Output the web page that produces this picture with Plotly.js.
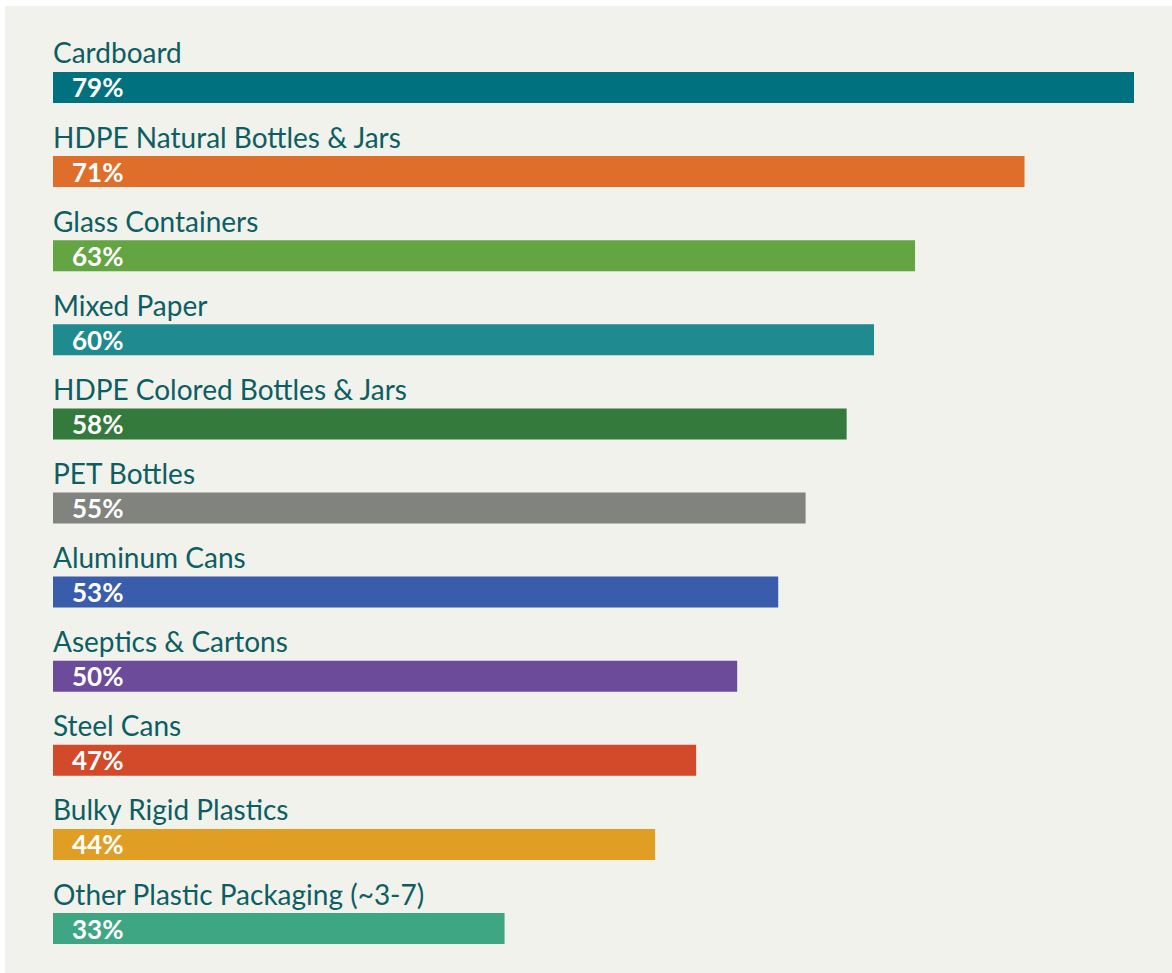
<!DOCTYPE html>
<html>
<head>
<meta charset="utf-8">
<script src="https://cdn.plot.ly/plotly-3.0.1.min.js"></script>
<style>
html,body{margin:0;padding:0;background:#ffffff;}
#chart{position:absolute;left:5px;top:6px;width:1167px;height:967px;}
</style>
</head>
<body>
<div id="chart"></div>
<script>
const categories = ["Cardboard","HDPE Natural Bottles & Jars","Glass Containers","Mixed Paper","HDPE Colored Bottles & Jars","PET Bottles","Aluminum Cans","Aseptics & Cartons","Steel Cans","Bulky Rigid Plastics","Other Plastic Packaging (~3-7)"];
const values = [79,71,63,60,58,55,53,50,47,44,33];
const barColors = ["#00727f","#de6e2a","#62a542","#1f8a8f","#337a3c","#80837e","#3a5dab","#6c4b9b","#d34a2a","#e09f24","#3ea683"];

const rows = categories.map((c,i)=>i);

const trace = {
  type:'bar', orientation:'h',
  x: values, y: rows,
  width: 0.369,
  marker:{color:barColors, line:{width:0}},
  hoverinfo:'skip'
};

const annotations = [];
categories.forEach((c,i)=>{
  annotations.push({x:0, y:rows[i], xref:'x', yref:'y', text:c, showarrow:false,
    xanchor:'left', yanchor:'middle', yshift:35, xshift:-2,
    font:{family:'Lato, "Open Sans", sans-serif', size:28, color:'#0d5e63'}});
  annotations.push({x:0, y:rows[i], xref:'x', yref:'y', text:'<b>'+values[i]+'%</b>', showarrow:false,
    xanchor:'left', yanchor:'middle', xshift:17,
    font:{family:'Lato, "Open Sans", sans-serif', size:26, color:'#ffffff'}});
});

const layout = {
  width:1167, height:967,
  margin:{l:48, r:38, t:0, b:0, pad:0},
  paper_bgcolor:'#f0f2eb', plot_bgcolor:'#f0f2eb',
  showlegend:false,
  xaxis:{range:[0,79], visible:false, fixedrange:true},
  yaxis:{range:[10.529,-0.969], visible:false, fixedrange:true},
  annotations: annotations
};

Plotly.newPlot('chart',[trace],layout,{displayModeBar:false, staticPlot:true});
</script>
</body>
</html>
